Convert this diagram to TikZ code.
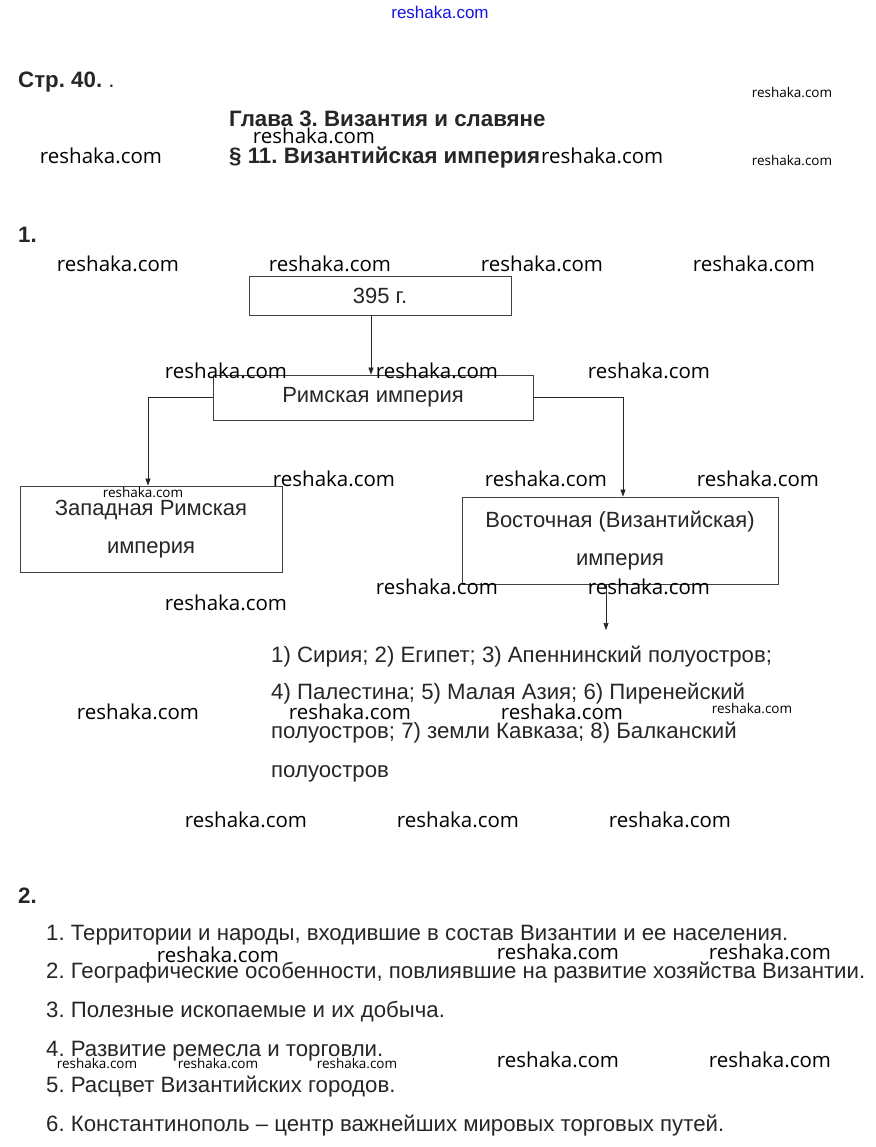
\documentclass[tikz,border=0pt]{standalone}
\usepackage{fontspec}
\setmainfont{Liberation Sans}
\newfontfamily\wmfont{Open Sans}
\usetikzlibrary{arrows.meta}
\definecolor{wmblue}{RGB}{20,20,230}
\frenchspacing
\begin{document}
\begin{tikzpicture}[x=1pt,y=-1pt,
  wm/.style={font={\wmfont\fontsize{20.5}{24}\selectfont}, inner sep=0, anchor=center},
  wms/.style={font={\wmfont\fontsize{13.5}{16}\selectfont}, inner sep=0, anchor=center},
  body/.style={font={\fontsize{22.2}{26}\selectfont}, inner sep=0, anchor=base west, text=black!85},
  head/.style={font={\fontsize{22.3}{26}\selectfont\bfseries}, inner sep=0, anchor=base west, text=black!85},
  box/.style={draw=black!75, line width=0.8pt, inner sep=0, align=center, text=black!85,
              font={\fontsize{22}{38}\selectfont}},
  arr/.style={-{Triangle[length=7pt,width=5pt]}, line width=0.7pt, draw=black!85}]
\useasboundingbox[fill=white] (0,0) rectangle (875,1147);

% top watermark
\node[inner sep=0, text=wmblue, font={\fontsize{17}{20}\selectfont}] (wtop) at (440,12) {reshaka.com};

% header
\node[head] (page) at (18,88) {Стр. 40. {\mdseries .}};
\node[wms] (w1) at (792,92) {reshaka.com};
\node[head] (chap) at (229,127) {Глава 3. Византия и славяне};
\node[wm] (w2) at (314,136) {reshaka.com};
\node[wm] (w3) at (101,156) {reshaka.com};
\node[head] (par) at (229,164) {§ 11. Византийская империя};
\node[wm, anchor=west] (w4) at (541,156) {reshaka.com};
\node[wms] (w5) at (792,160) {reshaka.com};

% task 1
\node[head] (t1) at (18,243) {1.};
\node[wm] (w6) at (118,264) {reshaka.com};
\node[wm] (w7) at (330,264) {reshaka.com};
\node[wm] (w8) at (542,264) {reshaka.com};
\node[wm] (w9) at (754,264) {reshaka.com};

\node[box, minimum width=262pt, minimum height=39pt] (b395) at (380,295.5) {395 г.};
\node[box, minimum width=320pt, minimum height=45pt] (rim) at (373,397.5) {Римская империя};
\node[box, minimum width=262pt, minimum height=86pt] (west) at (151,529) {Западная Римская\\империя};
\node[box, minimum width=316pt, minimum height=87pt] (east) at (620,540.5) {Восточная (Византийская)\\империя};

\draw[arr] (b395.south -| rim.north) ++(-2,0) coordinate (a0) -- (a0 |- rim.north);
\draw[arr] (rim.west) -| ([xshift=-3pt]west.north);
\draw[arr] (rim.east) -| ([xshift=3pt]east.north);
\coordinate (ltop) at (606,630);
\draw[arr] (east.south -| ltop) -- (ltop);

\node[wm] (w10) at (226,371) {reshaka.com};
\node[wm] (w11) at (437,371) {reshaka.com};
\node[wm] (w12) at (649,371) {reshaka.com};
\node[wm] (w13) at (334,479) {reshaka.com};
\node[wm] (w14) at (546,479) {reshaka.com};
\node[wm] (w15) at (758,479) {reshaka.com};
\node[wms] (w16) at (143,492) {reshaka.com};
\node[wm] (w17) at (437,587) {reshaka.com};
\node[wm] (w18) at (649,587) {reshaka.com};
\node[wm] (w19) at (226,603) {reshaka.com};

\node[body] (l1) at (271,662) {1) Сирия; 2) Египет; 3) Апеннинский полуостров;};
\node[body] (l2) at (271,699) {4) Палестина; 5) Малая Азия; 6) Пиренейский};
\node[body] (l3) at (271,738) {полуостров; 7) земли Кавказа; 8) Балканский};
\node[body] (l4) at (271,777) {полуостров};

\node[wm] (w20) at (138,712) {reshaka.com};
\node[wm] (w21) at (350,712) {reshaka.com};
\node[wm] (w22) at (562,712) {reshaka.com};
\node[wms] (w23) at (752,708) {reshaka.com};
\node[wm] (w24) at (246,820) {reshaka.com};
\node[wm] (w25) at (458,820) {reshaka.com};
\node[wm] (w26) at (670,820) {reshaka.com};

% task 2
\node[head] (t2) at (18,903) {2.};
\node[body] (i1) at (46,940) {1. Территории и народы, входившие в состав Византии и ее населения.};
\node[body] (i2) at (46,978) {2. Географические особенности, повлиявшие на развитие хозяйства Византии.};
\node[body] (i3) at (46,1017) {3. Полезные ископаемые и их добыча.};
\node[body] (i4) at (46,1056) {4. Развитие ремесла и торговли.};
\node[body] (i5) at (46,1092) {5. Расцвет Византийских городов.};
\node[body] (i6) at (46,1131) {6. Константинополь – центр важнейших мировых торговых путей.};

\node[wm] (w27) at (218,955) {reshaka.com};
\node[wm] (w28) at (558,952) {reshaka.com};
\node[wm] (w29) at (770,952) {reshaka.com};
\node[wm] (w30) at (558,1060) {reshaka.com};
\node[wm] (w31) at (770,1060) {reshaka.com};
\node[wms] (w32) at (97,1063) {reshaka.com};
\node[wms] (w33) at (218,1063) {reshaka.com};
\node[wms] (w34) at (357,1063) {reshaka.com};
\end{tikzpicture}
\end{document}
